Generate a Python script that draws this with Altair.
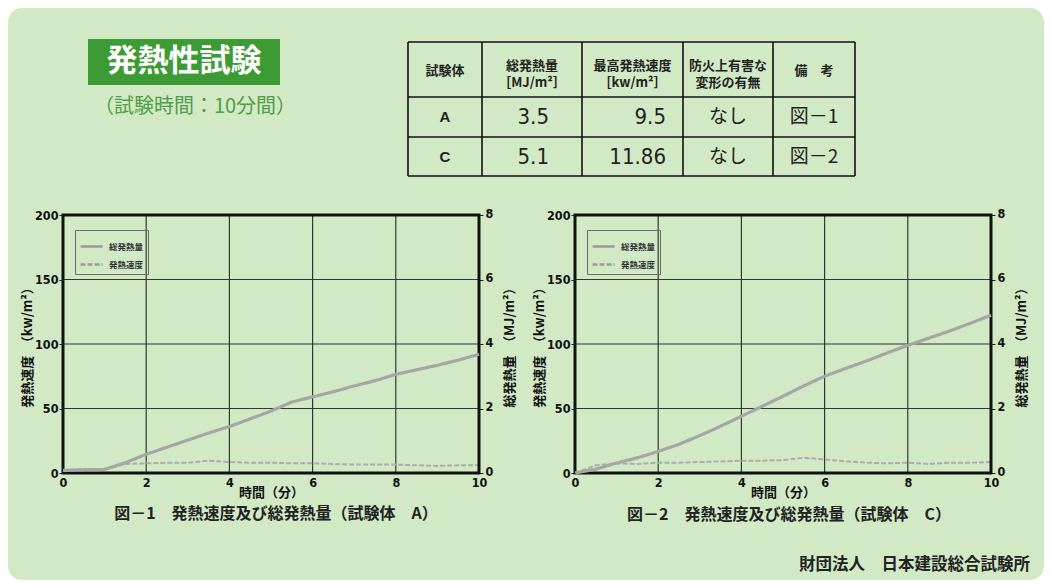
import altair as alt
import pandas as pd

# ---------------- data ----------------
time_min = [0, 0.5, 1, 1.5, 2, 2.5, 3, 3.5, 4, 4.5, 5, 5.5, 6, 6.5, 7, 7.5, 8, 8.5, 9, 9.5, 10]
# specimen A
total_heat_A = [0.08, 0.10, 0.11, 0.32, 0.58, 0.80, 1.02, 1.24, 1.44, 1.68, 1.92, 2.20, 2.36, 2.52, 2.70, 2.86, 3.06, 3.20, 3.34, 3.50, 3.68]
heat_rate_A = [2, 3, 3, 7, 7.5, 8, 8, 9.5, 8.5, 8, 8, 7.5, 7.5, 7, 6.5, 6.5, 6.5, 6, 5.5, 6, 6]
# specimen C
total_heat_C = [0.0, 0.12, 0.31, 0.47, 0.67, 0.89, 1.16, 1.45, 1.76, 2.07, 2.38, 2.70, 3.00, 3.24, 3.47, 3.72, 3.96, 4.18, 4.40, 4.64, 4.89]
heat_rate_C = [0, 6, 7.5, 7, 8, 8, 8.5, 9, 9.5, 9.5, 10, 11.86, 10.5, 9, 8, 7.5, 8, 7, 8, 8, 8.5]

series_names = ["総発熱量", "発熱速度"]
x_ticks = [0, 2, 4, 6, 8, 10]
x_grid = [2, 4, 6, 8]
rate_ticks = [0, 50, 100, 150, 200]
rate_grid = [50, 100, 150]
total_ticks = [0, 2, 4, 6, 8]

table_header_line1 = ["試験体", "総発熱量", "最高発熱速度", "防火上有害な", "備　考"]
table_header_line2 = ["", "［MJ/m²］", "［kw/m²］", "変形の有無", ""]
table_specimen = ["A", "C"]
table_total = ["3.5", "5.1"]
table_peak = ["9.5", "11.86"]
table_deform = ["なし", "なし"]
table_note = ["図－1", "図－2"]

# ---------------- layout / style ----------------
W, H = 1036, 572
CJK = "Noto Sans CJK JP"
NUM = "Liberation Sans Narrow, DejaVu Sans Condensed, Roboto, sans-serif"
BG = "#d1eac5"
GRID = "#2e3a2e"
LINE = "#a6a6a6"

col_edges = [400, 474, 574, 675, 765, 847]
row_edges = [34, 89, 129, 168]
header_y1 = [63, 58, 58, 58, 63]
header_y2 = [0, 75, 75, 75, 0]
row_text_y = [109, 149]

one = pd.DataFrame({"k": [0]})


def panel(total, rate, x0, x1, yb, yt):
    xs = alt.Scale(domain=[0, 10], range=[x0, x1], nice=False, zero=False)
    ysr = alt.Scale(domain=[0, 200], range=[yb, yt], nice=False, zero=False)
    yst = alt.Scale(domain=[0, 8], range=[yb, yt], nice=False, zero=False)
    dash = alt.Scale(domain=series_names, range=[[1, 0], [5, 2]])
    ax_x = alt.Axis(orient="bottom", offset=yb - H, values=x_ticks, format="d", grid=False,
                    domain=False, ticks=False, labelPadding=3, labelFlush=False,
                    labelFont=NUM, labelFontSize=12.5, labelFontWeight="bold", labelColor="#111",
                    title="時間（分）", titleFont=CJK, titleFontSize=13, titleFontWeight="bold",
                    titleColor="#111", titlePadding=-2, zindex=1)
    ax_yl = alt.Axis(orient="left", offset=-x0, values=rate_ticks, grid=False, domain=False,
                     ticks=True, tickSize=4, tickColor="#222", labelPadding=1, labelFlush=False,
                     labelFont=NUM, labelFontSize=12.5, labelFontWeight="bold", labelColor="#111",
                     title="発熱速度　（kw/m²）", titleFont=CJK, titleFontSize=13,
                     titleFontWeight="bold", titleColor="#111", titlePadding=0, zindex=1)
    ax_yr = alt.Axis(orient="right", offset=x1 - W, values=total_ticks, grid=False, domain=False,
                     ticks=True, tickSize=4, tickColor="#222", labelPadding=2, labelFlush=False,
                     labelOffset=-2,
                     labelFont=NUM, labelFontSize=12.5, labelFontWeight="bold", labelColor="#111",
                     title="総発熱量　（MJ/m²）", titleFont=CJK, titleFontSize=13,
                     titleFontWeight="bold", titleColor="#111", titlePadding=24, titleAngle=270,
                     zindex=1)
    leg = alt.Legend(title=None, orient="none", legendX=x0 + 12, legendY=yt + 15,
                     direction="vertical", strokeColor="#6a6a6a", padding=4,
                     symbolType="stroke", symbolSize=484, symbolStrokeColor="#9a9a9a",
                     symbolStrokeWidth=2.5, labelFont=CJK, labelFontSize=8.5, labelOffset=5,
                     labelFontWeight="bold", labelColor="#333", rowPadding=-8, zindex=1)

    df_rate = pd.DataFrame({"t": time_min, "v": rate, "series": series_names[1]})
    df_total = pd.DataFrame({"t": time_min, "v": total, "series": series_names[0]})

    gx = alt.Chart(pd.DataFrame({"g": x_grid})).mark_rule(color=GRID, strokeWidth=1.2).encode(
        x=alt.X("g:Q", scale=xs, axis=ax_x),
        y=alt.YDatum(0, scale=ysr, axis=ax_yl),
        y2=alt.Y2Datum(200),
    )
    gy = alt.Chart(pd.DataFrame({"g": rate_grid})).mark_rule(color=GRID, strokeWidth=1.2).encode(
        y=alt.Y("g:Q", scale=ysr, axis=ax_yl),
        x=alt.XDatum(0, scale=xs, axis=ax_x),
        x2=alt.X2Datum(10),
    )
    frame = alt.Chart(one).mark_rect(fillOpacity=0, stroke="#111", strokeWidth=3).encode(
        x=alt.XDatum(0, scale=xs, axis=ax_x),
        x2=alt.X2Datum(10),
        y=alt.YDatum(0, scale=ysr, axis=ax_yl),
        y2=alt.Y2Datum(200),
    )
    rate_line = alt.Chart(df_rate).mark_line(color="#acacac", strokeWidth=2).encode(
        x=alt.X("t:Q", scale=xs, axis=ax_x),
        y=alt.Y("v:Q", scale=ysr, axis=ax_yl),
        strokeDash=alt.StrokeDash("series:N", scale=dash, legend=leg),
    )
    total_line = alt.Chart(df_total).mark_line(color=LINE, strokeWidth=3.2).encode(
        x=alt.X("t:Q", scale=xs, axis=ax_x),
        y=alt.Y("v:Q", scale=yst, axis=ax_yr),
        strokeDash=alt.StrokeDash("series:N", scale=dash, legend=leg),
    )
    left = alt.layer(gx, gy, rate_line, frame)
    return alt.layer(left, total_line).resolve_scale(y="independent")


panelA = panel(total_heat_A, heat_rate_A, 55, 471, 465, 207)
panelC = panel(total_heat_C, heat_rate_C, 567, 983, 465, 207)

# ---------------- decorations ----------------
bg = alt.Chart(one).mark_rect(color=BG, cornerRadius=14).encode(
    x=alt.value(0), x2=alt.value(W), y=alt.value(0), y2=alt.value(H))
title_box = alt.Chart(one).mark_rect(color="#3d9b36").encode(
    x=alt.value(80), x2=alt.value(272), y=alt.value(31), y2=alt.value(77))
title_txt = alt.Chart(one).mark_text(text="発熱性試験", font=CJK, fontSize=31, fontWeight="bold",
                                      color="white", align="center", baseline="middle").encode(
    x=alt.value(176), y=alt.value(54))
sub_txt = alt.Chart(one).mark_text(text="（試験時間：10分間）", font=CJK, fontSize=20,
                                    color="#4f9d45", align="center", baseline="middle").encode(
    x=alt.value(187), y=alt.value(99))

# table grid lines
vlines = pd.DataFrame({"x": col_edges, "y1": row_edges[0], "y2": row_edges[-1]})
hlines = pd.DataFrame({"y": row_edges, "x1": col_edges[0], "x2": col_edges[-1]})
tv = alt.Chart(vlines).mark_rule(color="#111", strokeWidth=1.6).encode(
    x=alt.X("x:Q", scale=None, axis=None), y=alt.Y("y1:Q", scale=None, axis=None), y2="y2:Q")
th = alt.Chart(hlines).mark_rule(color="#111", strokeWidth=1.6).encode(
    y=alt.Y("y:Q", scale=None, axis=None), x=alt.X("x1:Q", scale=None, axis=None), x2="x2:Q")

centers = [(col_edges[i] + col_edges[i + 1]) / 2 for i in range(5)]
hdr = pd.DataFrame({
    "txt": table_header_line1 + table_header_line2,
    "x": centers + centers,
    "y": header_y1 + header_y2,
})
hdr = hdr[hdr["txt"] != ""]
t_hdr = alt.Chart(hdr).mark_text(font=CJK, fontSize=13, fontWeight="bold", color="#222",
                                 align="center", baseline="middle").encode(
    x=alt.X("x:Q", scale=None, axis=None), y=alt.Y("y:Q", scale=None, axis=None), text="txt:N")

spec = pd.DataFrame({"txt": table_specimen, "x": centers[0], "y": row_text_y})
t_spec = alt.Chart(spec).mark_text(font="Liberation Sans, Arial, sans-serif", fontSize=15,
                                   fontWeight="bold", color="#222", align="center",
                                   baseline="middle").encode(
    x=alt.X("x:Q", scale=None, axis=None), y=alt.Y("y:Q", scale=None, axis=None), text="txt:N")

nums = pd.DataFrame({
    "txt": table_total + table_peak,
    "x": [541, 541, 658, 658],
    "y": row_text_y + row_text_y,
})
t_nums = alt.Chart(nums).mark_text(font=NUM, fontSize=22, color="#222", align="right",
                                   baseline="middle").encode(
    x=alt.X("x:Q", scale=None, axis=None), y=alt.Y("y:Q", scale=None, axis=None), text="txt:N")

jp = pd.DataFrame({
    "txt": table_deform + table_note,
    "x": [centers[3]] * 2 + [centers[4]] * 2,
    "y": row_text_y + row_text_y,
})
t_jp = alt.Chart(jp).mark_text(font=CJK, fontSize=19, color="#222", align="center",
                               baseline="middle").encode(
    x=alt.X("x:Q", scale=None, axis=None), y=alt.Y("y:Q", scale=None, axis=None), text="txt:N")

capA = alt.Chart(one).mark_text(text="図－1　発熱速度及び総発熱量（試験体　A）", font=CJK, fontSize=16,
                                fontWeight="bold", color="#222", align="center",
                                baseline="middle").encode(x=alt.value(268), y=alt.value(506))
capC = alt.Chart(one).mark_text(text="図－2　発熱速度及び総発熱量（試験体　C）", font=CJK, fontSize=16,
                                fontWeight="bold", color="#222", align="center",
                                baseline="middle").encode(x=alt.value(781), y=alt.value(507))
footer = alt.Chart(one).mark_text(text="財団法人　日本建設総合試験所", font=CJK, fontSize=16.5,
                                  fontWeight="bold", color="#222", align="right",
                                  baseline="middle").encode(x=alt.value(1022), y=alt.value(557))

chart = alt.layer(
    bg, title_box, title_txt, sub_txt, tv, th, t_hdr, t_spec, t_nums, t_jp,
    panelA, panelC, capA, capC, footer,
).resolve_scale(
    x="independent", y="independent", strokeDash="independent"
).resolve_legend(
    strokeDash="independent"
).properties(
    width=W, height=H, padding=0, autosize=alt.AutoSizeParams(type="none"),
).configure(
    background="white",
).configure_view(
    strokeWidth=0,
)

chart.save("out.html", embed_options={"renderer": "svg", "actions": False})
